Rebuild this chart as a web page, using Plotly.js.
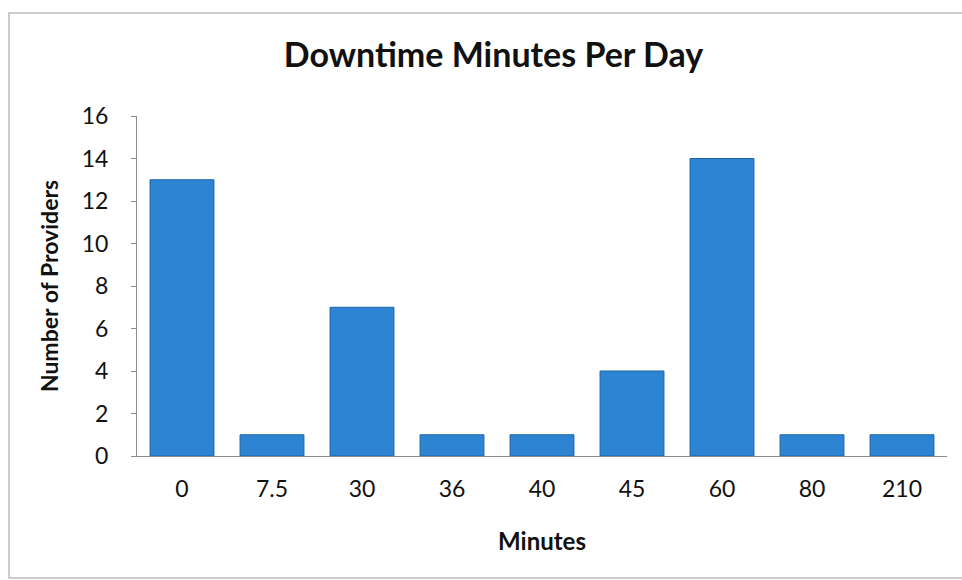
<!DOCTYPE html>
<html>
<head>
<meta charset="utf-8">
<script src="https://cdn.plot.ly/plotly-3.0.1.min.js"></script>
<style>html,body{margin:0;padding:0;background:#fff;}</style>
</head>
<body>
<div id="chart" style="width:962px;height:580px;"></div>
<script>
const categories = ["0", "7.5", "30", "36", "40", "45", "60", "80", "210"];
const providers = [13, 1, 7, 1, 1, 4, 14, 1, 1];
const yTicks = [0, 2, 4, 6, 8, 10, 12, 14, 16];

const font = "Lato, 'Open Sans', 'DejaVu Sans', sans-serif";

Plotly.newPlot("chart", [{
  type: "bar",
  x: categories,
  y: providers,
  marker: {color: "#2c84d2", line: {color: "#1d65a6", width: 1}},
  hoverinfo: "x+y"
}], {
  width: 962, height: 580,
  margin: {l: 137, r: 15, t: 116, b: 124},
  paper_bgcolor: "#fff", plot_bgcolor: "#fff",
  bargap: 0.29,
  showlegend: false,
  title: {text: "<b>Downtime Minutes Per Day</b>", x: 0.513, xanchor: "center", y: 0.905, yanchor: "middle",
          font: {family: font, size: 34, color: "#111"}},
  xaxis: {
    type: "category",
    showline: true, linecolor: "#8c8c8c", linewidth: 1,
    ticks: "", tickfont: {family: font, size: 23, color: "#111"},
    ticklabelstandoff: 12,
    showgrid: false, zeroline: false,
    title: {text: "<b>Minutes</b>", font: {family: font, size: 24, color: "#111"}, standoff: 32}
  },
  yaxis: {
    range: [0, 16], tickvals: yTicks, ticktext: yTicks.map(String),
    showline: true, linecolor: "#8c8c8c", linewidth: 1,
    ticks: "outside", ticklen: 5, tickcolor: "#8c8c8c",
    tickfont: {family: font, size: 23, color: "#111"},
    ticklabelstandoff: 18,
    showgrid: false, zeroline: false,
    title: {text: "<b>Number of Providers</b>", font: {family: font, size: 23, color: "#111"}, standoff: 16}
  },
  shapes: [{
    type: "rect", xref: "paper", yref: "paper",
    x0: -0.158, x1: 1.03, y0: -0.359, y1: 1.303,
    line: {color: "#bdbdbd", width: 1.5}, fillcolor: "rgba(0,0,0,0)"
  }]
}, {displayModeBar: false, staticPlot: true});
</script>
</body>
</html>
